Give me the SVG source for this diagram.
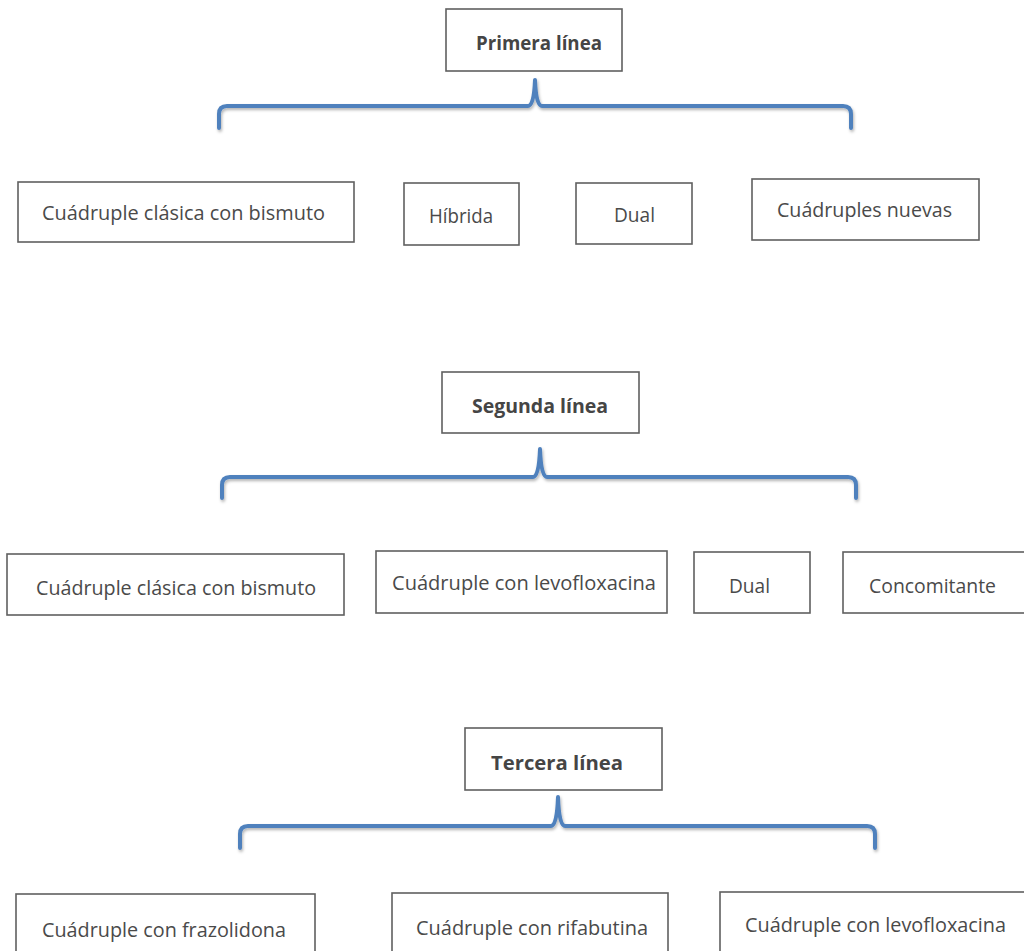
<svg xmlns="http://www.w3.org/2000/svg" width="1024" height="951" viewBox="0 0 1024 951">
<style>
.box{fill:#fff;stroke:#606060;stroke-width:1.6}
.t{font-family:"Open Sans","Liberation Sans",sans-serif;font-size:20px;fill:#4a4a4a}
.h{font-family:"Open Sans","Liberation Sans",sans-serif;font-size:20px;font-weight:bold;fill:#454545}
.brace{fill:none;stroke:#4F81BD;stroke-width:4;stroke-linecap:round;stroke-linejoin:round}
</style>
<defs>
<filter id="sh" x="-5%" y="-30%" width="110%" height="170%">
<feDropShadow dx="1" dy="2" stdDeviation="1.5" flood-color="#000" flood-opacity="0.3"/>
</filter>
</defs>
<rect width="1024" height="951" fill="#fff"/>
<g id="connectors" filter="url(#sh)">
<path class="brace" d="M219,128 L219,114 Q219,106 227,106 L528,106 Q534,106 535,80 Q536,106 542,106 L843,106 Q851,106 851,114 L851,128"/>
<path class="brace" d="M222,498 L222,485 Q222,477 230,477 L533,477 Q539,477 540,449 Q541,477 547,477 L848,477 Q856,477 856,485 L856,498"/>
<path class="brace" d="M240,848 L240,834 Q240,826 248,826 L551,826 Q557,826 558,797 Q559,826 565,826 L867,826 Q875,826 875,834 L875,848"/>
</g>
<g id="primera"><rect class="box" x="446" y="9" width="176" height="62"/><text class="h" x="476" y="50" textLength="126" lengthAdjust="spacingAndGlyphs">Primera línea</text></g>
<g id="p1"><rect class="box" x="18" y="182" width="336" height="60"/><text class="t" x="42" y="220" textLength="283" lengthAdjust="spacingAndGlyphs">Cuádruple clásica con bismuto</text></g>
<g id="p2"><rect class="box" x="404" y="183" width="115" height="62"/><text class="t" x="429" y="223" textLength="64" lengthAdjust="spacingAndGlyphs">Híbrida</text></g>
<g id="p3"><rect class="box" x="576" y="183" width="116" height="61"/><text class="t" x="614" y="222" textLength="41" lengthAdjust="spacingAndGlyphs">Dual</text></g>
<g id="p4"><rect class="box" x="752" y="179" width="227" height="61"/><text class="t" x="777" y="217" textLength="175" lengthAdjust="spacingAndGlyphs">Cuádruples nuevas</text></g>
<g id="segunda"><rect class="box" x="442" y="372" width="197" height="61"/><text class="h" x="472" y="413" textLength="136" lengthAdjust="spacingAndGlyphs">Segunda línea</text></g>
<g id="s1"><rect class="box" x="7" y="554" width="337" height="61"/><text class="t" x="36" y="595" textLength="280" lengthAdjust="spacingAndGlyphs">Cuádruple clásica con bismuto</text></g>
<g id="s2"><rect class="box" x="376" y="551" width="291" height="62"/><text class="t" x="392" y="590" textLength="264" lengthAdjust="spacingAndGlyphs">Cuádruple con levofloxacina</text></g>
<g id="s3"><rect class="box" x="694" y="552" width="116" height="61"/><text class="t" x="729" y="593" textLength="41" lengthAdjust="spacingAndGlyphs">Dual</text></g>
<g id="s4"><rect class="box" x="843" y="552" width="190" height="61"/><text class="t" x="869" y="593" textLength="127" lengthAdjust="spacingAndGlyphs">Concomitante</text></g>
<g id="tercera"><rect class="box" x="465" y="728" width="197" height="62"/><text class="h" x="491" y="770" textLength="132" lengthAdjust="spacingAndGlyphs">Tercera línea</text></g>
<g id="t1"><rect class="box" x="16" y="894" width="299" height="80"/><text class="t" x="42" y="937" textLength="244" lengthAdjust="spacingAndGlyphs">Cuádruple con frazolidona</text></g>
<g id="t2"><rect class="box" x="392" y="893" width="276" height="80"/><text class="t" x="416" y="935" textLength="232" lengthAdjust="spacingAndGlyphs">Cuádruple con rifabutina</text></g>
<g id="t3"><rect class="box" x="720" y="892" width="320" height="80"/><text class="t" x="745" y="932" textLength="261" lengthAdjust="spacingAndGlyphs">Cuádruple con levofloxacina</text></g>
</svg>
